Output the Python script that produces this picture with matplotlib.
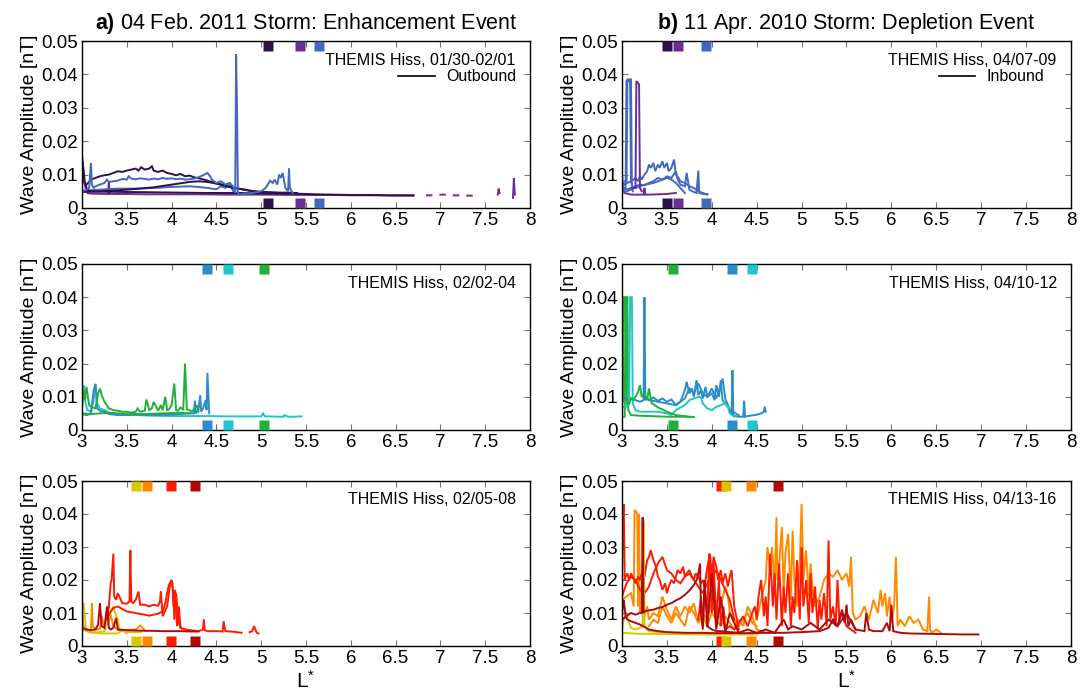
import numpy as np
import matplotlib
matplotlib.use("Agg")
import matplotlib.pyplot as plt
from matplotlib.lines import Line2D
from matplotlib.transforms import blended_transform_factory

plt.rcParams['font.family'] = ['Liberation Sans', 'DejaVu Sans']
plt.rcParams['mathtext.fontset'] = 'custom'
plt.rcParams['mathtext.rm'] = 'Liberation Sans'
plt.rcParams['mathtext.bf'] = 'Liberation Sans:bold'
plt.rcParams['mathtext.it'] = 'Liberation Sans:italic'

nan = np.nan

# ---------------- colours ----------------
C_DARK, C_PURP, C_BLUE = '#2b1248', '#6b2d96', '#4468be'
C_MBLUE, C_CYAN, C_GREEN = '#2a8ccc', '#22c5c8', '#1fb03a'
C_YEL, C_ORA, C_RED, C_DRED = '#d6c800', '#ff8a00', '#ff1a00', '#b00a0a'

# ---------------- axis ticks ----------------
x_ticks = [3, 3.5, 4, 4.5, 5, 5.5, 6, 6.5, 7, 7.5, 8]
x_tick_labels = ['3', '3.5', '4', '4.5', '5', '5.5', '6', '6.5', '7', '7.5', '8']
y_ticks = [0, 0.01, 0.02, 0.03, 0.04, 0.05]
y_tick_labels = ['0', '0.01', '0.02', '0.03', '0.04', '0.05']

# ================= Panel a (top) =================
a1_d1_L = [3.05,3.1,3.15,3.2,3.25,3.3,3.35,3.4,3.45,3.5,3.55,3.6,3.63,3.66,3.7,3.75,3.78,3.8,3.85,3.9,3.95,4.0,4.05,4.1,4.15,4.2,4.25,4.3,4.35,4.4,4.45,4.5,4.55,4.6,4.65,4.7,4.8,4.9,5.0,5.1,5.2,5.3,5.4,5.5,5.6,5.8,6.0,6.2,6.4,6.7]
a1_d1_B = [0.007,0.0085,0.009,0.0095,0.0098,0.010,0.0105,0.011,0.0108,0.0112,0.0115,0.0118,0.0112,0.0122,0.0115,0.0118,0.0125,0.0112,0.0108,0.0112,0.0105,0.0102,0.0098,0.0102,0.0095,0.0097,0.0092,0.0089,0.0086,0.0082,0.0078,0.0074,0.0071,0.0068,0.0063,0.0060,0.0056,0.0051,0.0048,0.0046,0.0045,0.0044,0.0043,0.0042,0.0041,0.0040,0.0039,0.0039,0.0038,0.0038]
a1_d2_L = [3.0,3.2,3.4,3.6,3.8,3.9,4.0,4.1,4.2,4.3,4.4,4.5,4.6,4.7,4.8,4.9,5.0,5.1,5.2,5.3,5.4]
a1_d2_B = [0.0048,0.0050,0.0053,0.0057,0.0062,0.0066,0.0070,0.0074,0.0078,0.0080,0.0078,0.0073,0.0066,0.0060,0.0055,0.0050,0.0048,0.0047,0.0046,0.0046,0.0045]
a1_d3_L = [3.0,3.01,3.02,3.03,3.05,3.08,3.2,3.5,3.8,4.1,4.4,4.7,5.0,5.3]
a1_d3_B = [0.0155,0.013,0.011,0.008,0.006,0.005,0.0049,0.0048,0.0047,0.0046,0.0045,0.0045,0.0044,0.0043]
a1_b1_L = [3.0,3.05,3.08,3.1,3.11,3.13,3.15,3.2,3.25,3.28,3.3,3.35,3.4,3.45,3.5,3.52,3.55,3.6,3.65,3.7,3.75,3.8,3.85,3.9,3.95,4.0,4.05,4.1,4.15,4.2,4.25,4.3,4.35,4.4,4.43,4.45,4.5,4.55,4.6,4.65,4.7,4.71,4.72,4.73,4.74,4.76,4.8,4.9,5.0,5.05,5.1,5.13,5.15,5.18,5.2,5.22,5.24,5.27,5.3,5.31,5.32,5.35]
a1_b1_B = [0.005,0.0055,0.006,0.0135,0.007,0.006,0.0065,0.007,0.0075,0.0085,0.0078,0.008,0.0082,0.0087,0.0085,0.0095,0.0088,0.0086,0.0089,0.0087,0.0085,0.0088,0.0086,0.0090,0.0087,0.0089,0.0086,0.0088,0.0085,0.0086,0.0088,0.0092,0.0098,0.0105,0.0095,0.0085,0.0075,0.0080,0.0070,0.0075,0.0060,0.0045,0.046,0.030,0.0045,0.0040,0.0042,0.0045,0.0050,0.0060,0.0082,0.0075,0.0085,0.0070,0.0100,0.0090,0.0105,0.0060,0.0050,0.0118,0.0060,0.0045]
a1_b2_L = [3.0,3.2,3.4,3.6,3.8,4.0,4.2,4.3,4.4,4.5,4.55,4.6,4.65,4.7]
a1_b2_B = [0.0052,0.0055,0.0058,0.0058,0.0060,0.0063,0.0065,0.0063,0.0060,0.0056,0.0065,0.0060,0.0070,0.0045]
a1_p1_L = [3.0,3.01,3.02,3.04,3.06,3.1,3.29,3.3,3.31,3.5,3.7,4.0,4.3,4.6,5.0,5.4,5.8,6.0,6.3,6.5,6.7]
a1_p1_B = [0.0145,0.011,0.008,0.006,0.0045,0.0043,0.0042,0.0078,0.0042,0.0042,0.0041,0.0041,0.0041,0.0040,0.0040,0.0039,0.0039,0.0038,0.0038,0.0037,0.0037]
a1_p2_L = [6.85,6.9,nan,7.0,7.05,nan,7.15,7.2,nan,7.3,7.35,nan,7.64,7.65,7.66,nan,7.81,7.82,7.83]
a1_p2_B = [0.0038,0.0038,nan,0.0040,0.0040,nan,0.0038,0.0038,nan,0.0037,0.0037,nan,0.0040,0.0058,0.0045,nan,0.0030,0.0090,0.0040]

b1_b1_L = [3.0,3.04,3.05,3.06,3.10,3.11,3.12]
b1_b1_B = [0.006,0.006,0.038,0.0385,0.0385,0.006,0.005]
b1_b2_L = [3.03,3.05,3.06,3.09,3.10,3.12]
b1_b2_B = [0.008,0.008,0.038,0.038,0.008,0.006]
b1_p1_L = [3.12,3.15,3.16,3.19,3.20,3.22]
b1_p1_B = [0.006,0.006,0.038,0.037,0.006,0.005]
b1_p2_L = [3.0,3.01,3.03,3.1,3.2,3.24,3.25,3.26,3.3,3.4,3.5,3.6]
b1_p2_B = [0.010,0.006,0.0045,0.0040,0.0040,0.0040,0.0060,0.0040,0.0040,0.0041,0.0042,0.0045]
b1_b3_L = [3.0,3.03,3.06,3.1,3.13,3.15,3.18,3.2,3.22,3.25,3.28,3.3,3.32,3.35,3.37,3.4,3.42,3.45,3.47,3.5,3.52,3.55,3.58,3.6,3.63,3.65,3.7,3.75,3.8,3.85,3.9,3.95]
b1_b3_B = [0.008,0.007,0.0075,0.008,0.0085,0.009,0.008,0.0095,0.0085,0.010,0.011,0.013,0.012,0.0135,0.011,0.013,0.012,0.014,0.012,0.0135,0.011,0.012,0.0145,0.010,0.009,0.008,0.0075,0.0065,0.006,0.005,0.0045,0.004]
b1_b4_L = [3.0,3.05,3.1,3.15,3.2,3.25,3.3,3.35,3.4,3.45,3.5,3.55,3.6,3.62,3.65,3.7,3.72,3.75,3.8,3.83,3.85,3.86,3.9,3.95]
b1_b4_B = [0.006,0.0055,0.006,0.0065,0.007,0.0068,0.0075,0.008,0.009,0.0085,0.0095,0.009,0.011,0.0085,0.007,0.0065,0.0105,0.0055,0.0048,0.0045,0.0112,0.0045,0.0042,0.0042]
b1_b5_L = [3.0,3.05,3.1,3.15,3.2,3.25,3.3,3.35,3.4,3.45,3.5,3.55,3.6,3.65,3.7]
b1_b5_B = [0.0045,0.005,0.0055,0.006,0.0065,0.007,0.0072,0.0075,0.008,0.0085,0.009,0.0085,0.0075,0.006,0.0045]

# ================= Panel middle =================
a2_c1_L = [3.0,3.02,3.04,3.06,3.1,3.13,3.15,3.17,3.2,3.25,3.3,3.4,3.5,3.6,3.7,3.8,4.0,4.2,4.4,4.6,4.8,5.0,5.02,5.04,5.1,5.2,5.25,5.26,5.3,5.35,5.45]
a2_c1_B = [0.0095,0.0135,0.008,0.006,0.0055,0.009,0.0140,0.0080,0.0065,0.0060,0.0052,0.0048,0.0045,0.0045,0.0044,0.0043,0.0042,0.0042,0.0042,0.0041,0.0041,0.0041,0.0050,0.0041,0.0041,0.0040,0.0040,0.0045,0.0040,0.0040,0.0041]
a2_b1_L = [3.0,3.05,3.1,3.13,3.15,3.17,3.2,3.25,3.3,3.4,3.5,3.6,3.7,3.8,3.9,4.0,4.1,4.2,4.25,4.26,4.27,4.3,4.32,4.33,4.35,4.38,4.39,4.4,4.42]
a2_b1_B = [0.0048,0.0045,0.0048,0.012,0.0138,0.0065,0.0058,0.0055,0.0048,0.0045,0.0045,0.0046,0.0045,0.0045,0.0046,0.0046,0.0048,0.0050,0.0050,0.0088,0.0050,0.0060,0.0105,0.0055,0.0065,0.0090,0.0060,0.0172,0.0050]
a2_g1_L = [3.0,3.02,3.03,3.05,3.08,3.1,3.15,3.18,3.2,3.22,3.25,3.3,3.35,3.4,3.45,3.5,3.55,3.6,3.62,3.65,3.7,3.72,3.75,3.78,3.8,3.83,3.85,3.88,3.9,3.93,3.95,3.97,4.0,4.03,4.05,4.07,4.1,4.13,4.15,4.17,4.2,4.22,4.25,4.28,4.3]
a2_g1_B = [0.0065,0.012,0.009,0.013,0.0075,0.007,0.0065,0.011,0.0125,0.0105,0.0085,0.0065,0.006,0.0058,0.0055,0.0055,0.0052,0.0055,0.0065,0.0055,0.0058,0.0092,0.0060,0.0065,0.0085,0.0070,0.0058,0.0075,0.0060,0.0100,0.0060,0.0062,0.0075,0.0140,0.0060,0.0058,0.0068,0.0060,0.0200,0.0062,0.0060,0.0055,0.0062,0.0075,0.0055]
a2_g2_L = [3.0,3.1,3.2,3.3,3.4,3.5,3.6,3.7,3.8,3.9,4.0,4.1,4.2]
a2_g2_B = [0.0050,0.0048,0.0050,0.0052,0.0050,0.0048,0.0048,0.0048,0.0049,0.0050,0.0051,0.0052,0.0050]

b2_g1_L = [3.0,3.01,3.02,3.04,3.05,3.06,3.08,3.1,3.12,3.15,3.18,3.2,3.22,3.25,3.28,3.3,3.33,3.35,3.4,3.45,3.5,3.55,3.6,3.65,3.7,3.75]
b2_g1_B = [0.008,0.0085,0.040,0.040,0.009,0.0075,0.008,0.0095,0.009,0.010,0.0115,0.0135,0.010,0.011,0.009,0.0125,0.008,0.0078,0.0068,0.0062,0.0055,0.0050,0.0045,0.0043,0.0042,0.0040]
b2_g2_L = [3.0,3.03,3.04,3.06,3.07,3.1,3.2,3.3,3.4,3.5,3.6,3.7,3.8]
b2_g2_B = [0.004,0.004,0.040,0.040,0.006,0.0045,0.0043,0.0042,0.0041,0.0040,0.0040,0.0040,0.0039]
b2_c1_L = [3.0,3.05,3.08,3.09,3.11,3.12,3.15,3.2,3.3,3.4,3.5,3.55,3.6,3.7,3.75,3.8,3.85,3.88,3.9,3.95,4.0,4.05,4.1,4.15,4.18,4.2,4.25]
b2_c1_B = [0.007,0.007,0.008,0.040,0.040,0.008,0.006,0.0055,0.0055,0.0055,0.0050,0.0045,0.0060,0.0075,0.0090,0.0095,0.0100,0.0098,0.0080,0.0065,0.0060,0.0070,0.0075,0.0080,0.0070,0.0050,0.0040]
b2_b1_L = [3.0,3.02,3.05,3.1,3.15,3.2,3.24,3.25,3.26,3.28,3.3,3.35,3.4,3.45,3.5,3.55,3.6,3.62,3.65,3.7,3.72,3.75,3.78,3.8,3.83,3.85,3.88,3.9,3.93,3.95,4.0,4.03,4.05,4.08,4.1,4.12,4.15,4.2,4.22,4.23,4.24,4.26,4.3,4.35,4.36,4.37,4.4,4.45,4.5,4.55,4.58,4.59,4.6]
b2_b1_B = [0.013,0.010,0.009,0.0095,0.009,0.0085,0.009,0.040,0.009,0.0095,0.009,0.0098,0.0088,0.0095,0.0085,0.0092,0.0075,0.0080,0.0085,0.0120,0.0145,0.0110,0.0125,0.0100,0.0150,0.0105,0.0120,0.0095,0.0130,0.0100,0.0110,0.0090,0.0135,0.0100,0.0150,0.0090,0.0080,0.0060,0.0045,0.0180,0.0045,0.0042,0.0040,0.0040,0.0088,0.0040,0.0042,0.0044,0.0046,0.0050,0.0055,0.0070,0.0055]
b2_b2_L = [3.3,3.4,3.5,3.6,3.7,3.75,3.8,3.85,3.9,3.95,4.0,4.05,4.1,4.12,4.15,4.2,4.3]
b2_b2_B = [0.009,0.0085,0.008,0.0075,0.0095,0.0125,0.0110,0.0140,0.0110,0.0100,0.0125,0.0095,0.0135,0.0155,0.0095,0.0060,0.0045]

# ================= Panel bottom =================
a3_r1_L = [3.28,3.3,3.32,3.33,3.35,3.36,3.38,3.4,3.45,3.5,3.53,3.54,3.55,3.57,3.6,3.63,3.65,3.7,3.75,3.8,3.85,3.87,3.88,3.9,3.95,3.98,4.0,4.02,4.03,4.05,4.08,4.1,4.15,4.2,4.3,4.35,4.36,4.37,4.4,4.5,4.57,4.58,4.6,4.7,4.78,nan,4.87,4.9,4.92,4.95,4.97]
a3_r1_B = [0.008,0.012,0.019,0.020,0.028,0.015,0.014,0.016,0.013,0.0128,0.0135,0.029,0.0135,0.0130,0.0140,0.0165,0.0125,0.0125,0.0120,0.0125,0.0122,0.0135,0.0165,0.0090,0.0120,0.0180,0.0195,0.0160,0.0080,0.0160,0.0070,0.0055,0.0050,0.0048,0.0045,0.0050,0.0080,0.0048,0.0045,0.0045,0.0044,0.0075,0.0045,0.0043,0.0040,nan,0.0042,0.0045,0.0060,0.0040,0.0038]
a3_r2_L = [3.3,3.35,3.4,3.45,3.5,3.55,3.6,3.65,3.7,3.75,3.8,3.85,3.9,3.93,3.95,3.97,4.0,4.01,4.02,4.04,4.06,4.08,4.1,4.15,4.2]
a3_r2_B = [0.0095,0.0115,0.0120,0.0112,0.0105,0.0102,0.0100,0.0097,0.0095,0.0092,0.0095,0.0098,0.0105,0.0130,0.0160,0.0185,0.0200,0.0190,0.0120,0.0170,0.0060,0.0120,0.0055,0.0050,0.0048]
a3_d1_L = [3.0,3.05,3.1,3.15,3.18,3.2,3.22,3.25,3.28,3.3,3.32,3.35,3.38,3.4,3.5,3.6,3.7,3.8,3.9,4.0,4.1,4.2,4.3]
a3_d1_B = [0.0055,0.0050,0.0048,0.0050,0.0065,0.0130,0.0060,0.0055,0.0120,0.0055,0.0050,0.0055,0.0085,0.0050,0.0048,0.0047,0.0046,0.0046,0.0045,0.0045,0.0045,0.0044,0.0044]
a3_y1_L = [3.0,3.02,3.04,3.06,3.1,3.2,3.25,3.28,3.3,3.33,3.35,3.37,3.4,3.42,3.45,3.5,3.55,3.6,3.65]
a3_y1_B = [0.006,0.013,0.006,0.0045,0.0042,0.0042,0.0045,0.007,0.0095,0.011,0.012,0.010,0.008,0.0045,0.0045,0.0043,0.0042,0.0042,0.0042]
a3_y2_L = [3.0,3.05,3.1,3.15,3.2,3.3,3.4,3.45,3.5]
a3_y2_B = [0.0050,0.0045,0.0040,0.0040,0.0038,0.0038,0.0038,0.0048,0.0038]
a3_o1_L = [3.0,3.01,3.02,3.05,3.08,3.1,3.11,3.12,3.15,3.2,3.22,3.25,3.27,3.3,3.32,3.35,3.4,3.5,3.6,3.65,3.7]
a3_o1_B = [0.015,0.008,0.0055,0.005,0.0045,0.0050,0.0130,0.0060,0.0050,0.0052,0.0090,0.0060,0.0085,0.0075,0.0095,0.0060,0.0050,0.0048,0.0050,0.0062,0.0048]

b3_r1_L = [3.0,3.01,3.02,3.03,3.04,3.06,3.08,3.1,3.12,3.15,3.18,3.2,3.22,3.25,3.28,3.3,3.32,3.35,3.38,3.4,3.42,3.45,3.48,3.5,3.52,3.55,3.58,3.6,3.62,3.65,3.68,3.7,3.72,3.75,3.78,3.8,3.82,3.85,3.88,3.9,3.92,3.95,3.98,4.0,4.02,4.05,4.07,4.1,4.12,4.15,4.18,4.2,4.22,4.25,4.28,4.3]
b3_r1_B = [0.023,0.040,0.043,0.020,0.021,0.022,0.020,0.022,0.021,0.019,0.021,0.020,0.022,0.021,0.026,0.027,0.029,0.026,0.024,0.021,0.020,0.017,0.019,0.016,0.018,0.020,0.019,0.021,0.023,0.022,0.024,0.021,0.022,0.023,0.021,0.020,0.022,0.021,0.019,0.020,0.018,0.024,0.028,0.021,0.027,0.024,0.020,0.023,0.019,0.022,0.018,0.021,0.023,0.012,0.008,0.005]
b3_r2_L = [3.0,3.05,3.1,3.15,3.2,3.25,3.3,3.35,3.4,3.45,3.5,3.55,3.6,3.65,3.7,3.75,3.8,3.85,3.9,3.95,4.0,4.05,4.1,4.15,4.2,4.25]
b3_r2_B = [0.015,0.019,0.021,0.020,0.017,0.016,0.018,0.022,0.025,0.027,0.023,0.022,0.020,0.019,0.021,0.022,0.020,0.018,0.016,0.019,0.021,0.023,0.020,0.017,0.014,0.008]
b3_r3_L = [3.85,3.88,3.9,3.92,3.95,3.97,4.0,4.02,4.05,4.08,4.1,4.13,4.15,4.2,4.25,4.3,4.35,4.4,4.45,4.48,4.5,4.52,4.55,4.58,4.6,4.62,4.65,4.68,4.7,4.72,4.75,4.78,4.8,4.82,4.85,4.88,4.9,4.92,4.95,4.98,5.0,5.02,5.05,5.08,5.1,5.12,5.15,5.18,5.2,5.22,5.25,5.28,5.3,5.32,5.35,5.38,5.4,5.42,5.45,5.5,5.55,5.6]
b3_r3_B = [0.008,0.015,0.006,0.018,0.009,0.028,0.010,0.025,0.008,0.020,0.006,0.012,0.005,0.006,0.005,0.007,0.009,0.006,0.010,0.012,0.008,0.015,0.020,0.009,0.015,0.006,0.028,0.012,0.022,0.008,0.025,0.006,0.018,0.010,0.022,0.006,0.015,0.010,0.026,0.008,0.030,0.012,0.020,0.007,0.022,0.010,0.018,0.005,0.014,0.008,0.016,0.006,0.032,0.008,0.012,0.006,0.020,0.008,0.010,0.006,0.005,0.004]
b3_o1_L = [3.0,3.05,3.1,3.13,3.14,3.15,3.17,3.18,3.19,3.2,3.22,3.25,3.28,3.3,3.35,3.4,3.45,3.5,3.55,3.6,3.65,3.7,3.75,3.8,3.85,3.9,3.95,4.0,4.05,4.1,4.15,4.18,4.2,4.25,4.3,4.35,4.4,4.45,4.5]
b3_o1_B = [0.014,0.015,0.016,0.012,0.041,0.041,0.040,0.012,0.040,0.010,0.011,0.009,0.012,0.008,0.010,0.009,0.015,0.011,0.008,0.012,0.009,0.012,0.010,0.013,0.007,0.010,0.008,0.013,0.009,0.012,0.018,0.015,0.010,0.008,0.006,0.008,0.010,0.007,0.006]
b3_o2_L = [4.5,4.55,4.6,4.62,4.65,4.67,4.7,4.72,4.73,4.75,4.78,4.8,4.82,4.85,4.88,4.9,4.92,4.95,4.98,5.0,5.02,5.05,5.08,5.1,5.12,5.15,5.2,5.25,5.3,5.35,5.4,5.45,5.5,5.53,5.55,5.57,5.6,5.65,5.7,5.75,5.8,5.85,5.88,5.9,5.93,5.95,5.98,6.0,6.03,6.05,6.07,6.1,6.15,6.2,6.25,6.3,6.35,6.4,6.42,6.43,6.45,6.5,6.55]
b3_o2_B = [0.008,0.014,0.020,0.030,0.022,0.030,0.018,0.039,0.020,0.025,0.036,0.016,0.028,0.034,0.014,0.035,0.020,0.012,0.025,0.043,0.020,0.029,0.015,0.025,0.018,0.012,0.015,0.020,0.022,0.021,0.023,0.020,0.022,0.018,0.027,0.010,0.008,0.009,0.012,0.008,0.014,0.010,0.017,0.012,0.016,0.009,0.015,0.007,0.012,0.027,0.006,0.008,0.006,0.009,0.007,0.008,0.005,0.0045,0.015,0.005,0.004,0.005,0.004]
b3_o3_L = [3.3,3.35,3.4,3.45,3.5,3.55,3.6,3.65,3.7,3.75,3.8,3.85,3.9,3.95,4.0,4.05,4.1,4.15,4.2,4.25,4.3,4.35,4.4,4.45,4.5,4.6,4.7]
b3_o3_B = [0.006,0.008,0.007,0.012,0.009,0.007,0.010,0.008,0.006,0.012,0.010,0.007,0.009,0.006,0.010,0.008,0.006,0.009,0.007,0.005,0.008,0.006,0.012,0.009,0.005,0.004,0.004]
b3_d1_L = [3.0,3.05,3.1,3.15,3.2,3.22,3.23,3.24,3.25,3.3,3.35,3.4,3.45,3.5,3.55,3.6,3.65,3.7,3.75,3.8,3.83,3.85,3.87,3.88,3.9,3.92,3.95,4.0,4.05,4.1,4.2,4.3]
b3_d1_B = [0.008,0.009,0.010,0.0095,0.010,0.010,0.039,0.010,0.0105,0.0108,0.0110,0.0115,0.0118,0.0125,0.0130,0.0138,0.0145,0.0155,0.0168,0.0185,0.020,0.022,0.025,0.010,0.005,0.020,0.006,0.005,0.0045,0.0045,0.0042,0.0040]
b3_d2_L = [3.0,3.02,3.04,3.06,3.1,3.15,3.2,3.25,3.3,3.4,3.5,3.6,3.7,3.8,3.9,4.0,4.2,4.4,4.6,4.8,5.0,5.2,5.3,5.35,5.4,5.45,5.48,5.5,5.52,5.55,5.6,5.7,5.72,5.75,5.8,5.9,5.95,5.98,6.0,6.02,6.1,6.2,6.4,6.6,6.8,6.97]
b3_d2_B = [0.010,0.014,0.009,0.008,0.0075,0.007,0.0065,0.0058,0.005,0.0045,0.0042,0.0041,0.0040,0.0040,0.0040,0.0039,0.0039,0.0039,0.0040,0.0040,0.0042,0.0045,0.0055,0.0080,0.0060,0.0110,0.0070,0.0125,0.0060,0.0080,0.0050,0.0045,0.0100,0.0050,0.0045,0.0045,0.0070,0.0045,0.0125,0.0045,0.0040,0.0038,0.0037,0.0036,0.0035,0.0035]
b3_d3_L = [3.95,4.0,4.05,4.1,4.15,4.2,4.3,4.4,4.5,4.6,4.7,4.75,4.8,4.85,4.9,5.0,5.1,5.2,5.3,5.4,5.5,5.6]
b3_d3_B = [0.006,0.022,0.005,0.015,0.004,0.010,0.004,0.005,0.004,0.005,0.004,0.006,0.008,0.005,0.006,0.005,0.007,0.005,0.008,0.006,0.010,0.005]
b3_y1_L = [3.0,3.02,3.05,3.08,3.1,3.15,3.2,3.23,3.24,3.25,3.28,3.3,3.4,3.5,3.6,3.7,3.8,3.9,4.0,4.1,4.2,4.3]
b3_y1_B = [0.005,0.008,0.0095,0.007,0.0055,0.005,0.0055,0.006,0.038,0.006,0.005,0.0045,0.0042,0.0040,0.0040,0.0039,0.0038,0.0038,0.0038,0.0038,0.0037,0.0037]
b3_y2_L = [3.0,3.1,3.2,3.3,3.4,3.5,3.6,3.8,4.0,4.2,4.4,4.5]
b3_y2_B = [0.0040,0.0038,0.0037,0.0037,0.0036,0.0036,0.0036,0.0035,0.0035,0.0035,0.0035,0.0035]

# ---------------- square markers (L* positions) ----------------
a1_mark_L = [5.08, 5.43, 5.64]
b1_mark_L = [3.50, 3.62, 3.93]
a2_mark_L = [4.40, 4.63, 5.03]
b2_mark_L = [3.57, 4.23, 4.45]
a3_mark_L = [3.60, 3.72, 3.99, 4.26]
b3_mark_L = [4.10, 4.16, 4.44, 4.74]

panels = [
    dict(pos=[82/1083, 1-208/694, 448/1083, 167/694],
         traces=[(a1_p1_L, a1_p1_B, C_PURP), (a1_p2_L, a1_p2_B, C_PURP),
                 (a1_b2_L, a1_b2_B, C_BLUE), (a1_d2_L, a1_d2_B, C_DARK),
                 (a1_d3_L, a1_d3_B, C_DARK), (a1_d1_L, a1_d1_B, C_DARK),
                 (a1_b1_L, a1_b1_B, C_BLUE)],
         marks=(a1_mark_L, [C_DARK, C_PURP, C_BLUE]),
         label='THEMIS Hiss, 01/30-02/01', legend='Outbound',
         title=r'$\mathbf{a)}$ 04 Feb. 2011 Storm: Enhancement Event', xlabel=False),
    dict(pos=[622/1083, 1-208/694, 449/1083, 167/694],
         traces=[(b1_p2_L, b1_p2_B, C_PURP), (b1_b5_L, b1_b5_B, C_BLUE),
                 (b1_b4_L, b1_b4_B, C_BLUE), (b1_b3_L, b1_b3_B, C_BLUE),
                 (b1_b1_L, b1_b1_B, C_BLUE), (b1_b2_L, b1_b2_B, C_BLUE),
                 (b1_p1_L, b1_p1_B, C_PURP)],
         marks=(b1_mark_L, [C_DARK, C_PURP, C_BLUE]),
         label='THEMIS Hiss, 04/07-09', legend='Inbound',
         title=r'$\mathbf{b)}$ 11 Apr. 2010 Storm: Depletion Event', xlabel=False),
    dict(pos=[82/1083, 1-430/694, 448/1083, 166/694],
         traces=[(a2_c1_L, a2_c1_B, C_CYAN), (a2_b1_L, a2_b1_B, C_MBLUE),
                 (a2_g2_L, a2_g2_B, C_GREEN), (a2_g1_L, a2_g1_B, C_GREEN)],
         marks=(a2_mark_L, [C_MBLUE, C_CYAN, C_GREEN]),
         label='THEMIS Hiss, 02/02-04', legend=None, title=None, xlabel=False),
    dict(pos=[622/1083, 1-430/694, 449/1083, 166/694],
         traces=[(b2_g2_L, b2_g2_B, C_GREEN), (b2_b2_L, b2_b2_B, C_MBLUE),
                 (b2_b1_L, b2_b1_B, C_MBLUE), (b2_c1_L, b2_c1_B, C_CYAN),
                 (b2_g1_L, b2_g1_B, C_GREEN)],
         marks=(b2_mark_L, [C_GREEN, C_MBLUE, C_CYAN]),
         label='THEMIS Hiss, 04/10-12', legend=None, title=None, xlabel=False),
    dict(pos=[82/1083, 1-646/694, 448/1083, 165/694],
         traces=[(a3_y2_L, a3_y2_B, C_YEL), (a3_o1_L, a3_o1_B, C_ORA),
                 (a3_y1_L, a3_y1_B, C_YEL), (a3_r2_L, a3_r2_B, C_RED),
                 (a3_r1_L, a3_r1_B, C_RED), (a3_d1_L, a3_d1_B, C_DRED)],
         marks=(a3_mark_L, [C_YEL, C_ORA, C_RED, C_DRED]),
         label='THEMIS Hiss, 02/05-08', legend=None, title=None, xlabel=True),
    dict(pos=[622/1083, 1-646/694, 449/1083, 165/694],
         traces=[(b3_y2_L, b3_y2_B, C_YEL), (b3_o3_L, b3_o3_B, C_ORA),
                 (b3_o1_L, b3_o1_B, C_ORA), (b3_o2_L, b3_o2_B, C_ORA),
                 (b3_r2_L, b3_r2_B, C_RED), (b3_r1_L, b3_r1_B, C_RED),
                 (b3_r3_L, b3_r3_B, C_RED), (b3_y1_L, b3_y1_B, C_YEL),
                 (b3_d3_L, b3_d3_B, C_DRED), (b3_d1_L, b3_d1_B, C_DRED),
                 (b3_d2_L, b3_d2_B, C_DRED)],
         marks=(b3_mark_L, [C_RED, C_YEL, C_ORA, C_DRED]),
         label='THEMIS Hiss, 04/13-16', legend=None, title=None, xlabel=True),
]

fig = plt.figure(figsize=(10.83, 6.94), dpi=100)

for p in panels:
    ax = fig.add_axes(p['pos'])
    for L, B, c in p['traces']:
        ax.plot(L, B, color=c, lw=1.4, solid_joinstyle='miter')
    trans = blended_transform_factory(ax.transData, ax.transAxes)
    mL, mC = p['marks']
    for x, c in zip(mL, mC):
        ax.plot([x], [0.972], marker='s', ms=6.5, color=c, mec='none',
                transform=trans, clip_on=False, zorder=5)
        ax.plot([x], [0.028], marker='s', ms=6.5, color=c, mec='none',
                transform=trans, clip_on=False, zorder=5)
    ax.set_xlim(3, 8)
    ax.set_ylim(0, 0.05)
    ax.set_xticks(x_ticks)
    ax.set_xticklabels(x_tick_labels)
    ax.set_yticks(y_ticks)
    ax.set_yticklabels(y_tick_labels)
    ax.tick_params(direction='in', top=True, right=True, length=4, width=0.8,
                   color='0.45', labelsize=13.5, pad=3)
    for s in ax.spines.values():
        s.set_linewidth(1.0)
        s.set_color('black')
    ax.set_ylabel('Wave Amplitude [nT]', fontsize=14, labelpad=2)
    ax.text(0.968, 0.885, p['label'], transform=ax.transAxes, ha='right',
            va='center', fontsize=11.5)
    if p['legend']:
        h = Line2D([], [], color='black', lw=1.2)
        ax.legend([h], [p['legend']], loc='center left',
                  bbox_to_anchor=(0.705, 0.785), frameon=False,
                  fontsize=11.5, handlelength=2.3, handletextpad=0.7,
                  borderpad=0, borderaxespad=0)
    if p['title']:
        ax.set_title(p['title'], fontsize=15.5, pad=9)
    if p['xlabel']:
        ax.set_xlabel(r'L$^{*}$', fontsize=15, labelpad=2)

fig.savefig('out.png', dpi=100)
